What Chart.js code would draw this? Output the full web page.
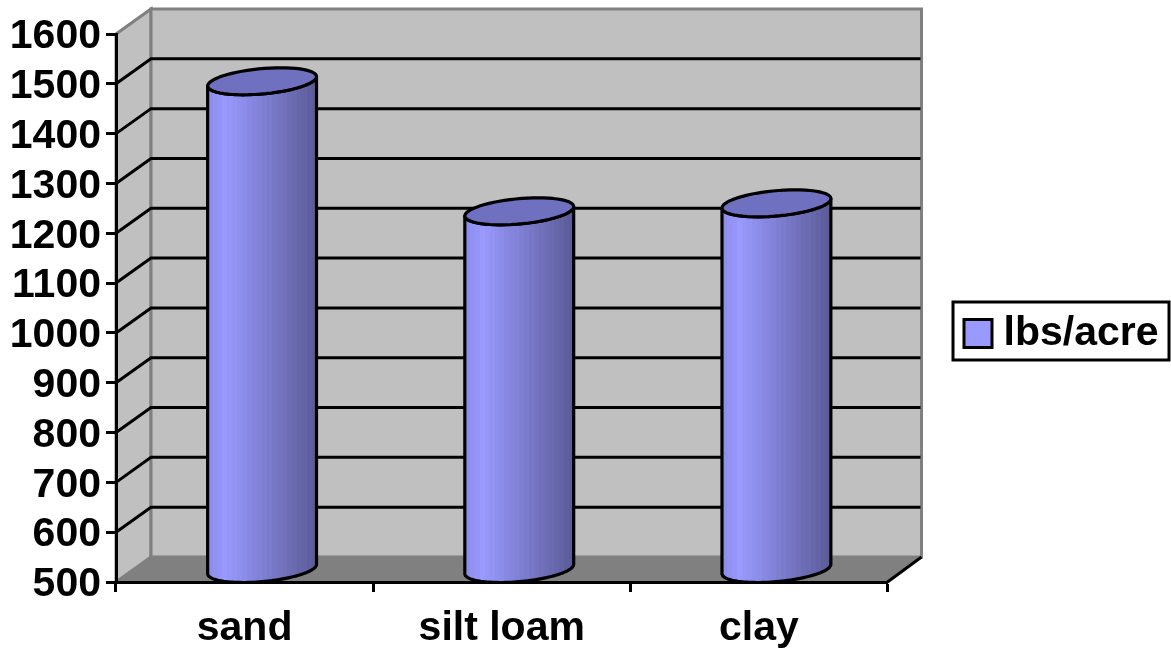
<!DOCTYPE html>
<html>
<head>
<meta charset="utf-8">
<title>lbs/acre</title>
<style>
    html, body { margin: 0; padding: 0; background: #fff; }
    canvas { display: block; }
</style>
<script src="https://cdn.jsdelivr.net/npm/chart.js@4"></script>
</head>
<body>
<canvas id="yieldChart" width="1171" height="651"></canvas>
<script>
const soils = ['sand', 'silt loam', 'clay'];
const lbsPerAcre = [1480, 1219, 1235];
const seriesName = 'lbs/acre';
const axisMin = 500;
const axisMax = 1600;
const axisStep = 100;

// depth of the fake 3D box, in pixels
const DEPTH_X = 35;
const DEPTH_Y = -25;
const CAP_SHEAR = 0.54;

const FONT = { family: '"Liberation Sans", Arial, sans-serif', size: 41, weight: 'bold' };

function ellipsePoint(cx, cy, r, t) {
    return {
        x: cx + r * Math.cos(t) + DEPTH_X * CAP_SHEAR * Math.sin(t),
        y: cy + DEPTH_Y * CAP_SHEAR * Math.sin(t)
    };
}

// angle of the leftmost point of the sheared ellipse
function sideAngle(r) {
    return Math.PI + Math.atan2(DEPTH_X * CAP_SHEAR, r);
}

function traceArc(ctx, cx, cy, r, from, to) {
    const steps = 60;
    for (let i = 0; i <= steps; i++) {
        const p = ellipsePoint(cx, cy, r, from + (to - from) * i / steps);
        ctx.lineTo(p.x, p.y);
    }
}

function bodyGradient(ctx, left, right) {
    const grad = ctx.createLinearGradient(left, 0, right, 0);
    const bands = 22;
    for (let i = 0; i < bands; i++) {
        const f = i / (bands - 1);
        // brightest a little in from the left edge, dark at the right
        const k = f < 0.15 ? 0.93 + f * 0.47 : 1 - (f - 0.15) * 0.47;
        const col = `rgb(${Math.round(153 * k)},${Math.round(153 * k)},${Math.round(255 * k)})`;
        grad.addColorStop(i / bands, col);
        grad.addColorStop((i + 1) / bands, col);
    }
    return grad;
}

class CylinderController extends Chart.BarController {
    draw() {
        const ctx = this.chart.ctx;
        this.getMeta().data.forEach(bar => {
            const { x, y, base, width } = bar.getProps(['x', 'y', 'base', 'width']);
            const r = width / 2;
            const cx = x + DEPTH_X / 2;
            const topY = y + DEPTH_Y / 2;
            const botY = base + DEPTH_Y / 2;
            const a = sideAngle(r);
            const reach = ellipsePoint(cx, 0, r, a);
            const halfW = cx - reach.x;

            ctx.save();
            ctx.lineWidth = 3.2;
            ctx.strokeStyle = '#000';
            ctx.lineJoin = 'round';

            // side wall and lower rim
            ctx.beginPath();
            const start = ellipsePoint(cx, topY, r, a);
            ctx.moveTo(start.x, start.y);
            traceArc(ctx, cx, botY, r, a, a + Math.PI);
            traceArc(ctx, cx, topY, r, a + Math.PI, a);
            ctx.closePath();
            ctx.fillStyle = bodyGradient(ctx, cx - halfW, cx + halfW);
            ctx.fill();
            ctx.stroke();

            // top cap
            ctx.beginPath();
            traceArc(ctx, cx, topY, r, 0, Math.PI * 2);
            ctx.closePath();
            ctx.fillStyle = '#7070c0';
            ctx.fill();
            ctx.stroke();
            ctx.restore();
        });
    }
}
CylinderController.id = 'cylinder';
CylinderController.defaults = Chart.BarController.defaults;
CylinderController.overrides = Chart.BarController.overrides;
Chart.register(CylinderController);

// back wall, side wall, floor and the grid running across them
const boxWalls = {
    id: 'boxWalls',
    beforeDraw(chart) {
        const { ctx, chartArea: a, scales: { y: yScale } } = chart;
        const poly = (pts, fill, stroke, lw) => {
            ctx.beginPath();
            pts.forEach((p, i) => i ? ctx.lineTo(p[0], p[1]) : ctx.moveTo(p[0], p[1]));
            if (fill) {
                ctx.closePath();
                ctx.fillStyle = fill;
                ctx.fill();
            }
            if (stroke) {
                ctx.strokeStyle = stroke;
                ctx.lineWidth = lw;
                ctx.stroke();
            }
        };
        const backL = a.left + DEPTH_X, backR = a.right + DEPTH_X - 1;
        const backT = a.top + DEPTH_Y, backB = a.bottom + DEPTH_Y;

        ctx.save();
        poly([[a.left, a.top], [backL, backT], [backL, backB], [a.left, a.bottom]], '#c0c0c0', '#808080', 3);
        poly([[a.left, a.bottom], [a.right, a.bottom], [backR, backB], [backL, backB]], '#808080');
        poly([[backL, backT], [backR, backT], [backR, backB], [backL, backB]], '#c0c0c0', '#808080', 3);

        yScale.ticks.forEach(t => {
            if (t.value === axisMin || t.value === axisMax) return;
            const py = yScale.getPixelForValue(t.value);
            poly([[a.left, py], [backL, py + DEPTH_Y], [backR - 1, py + DEPTH_Y]], null, '#000', 3);
        });
        poly([[a.right, a.bottom], [backR, backB]], null, '#000', 3);
        ctx.restore();
    }
};

// the key sits in its own outlined box to the right of the plot
const legendBox = { left: 953, top: 302, right: 1169, bottom: 360 };
const legendFrame = {
    id: 'legendFrame',
    afterLayout(chart) {
        const lg = chart.legend;
        lg.left = legendBox.left;
        lg.right = legendBox.right;
        lg.top = legendBox.top - 9;
        lg.bottom = legendBox.bottom - 9;
    },
    afterDraw(chart) {
        const ctx = chart.ctx;
        ctx.save();
        ctx.strokeStyle = '#000';
        ctx.lineWidth = 3;
        ctx.strokeRect(legendBox.left, legendBox.top, legendBox.right - legendBox.left, legendBox.bottom - legendBox.top);
        ctx.restore();
    }
};

new Chart(document.getElementById('yieldChart').getContext('2d'), {
    type: 'cylinder',
    data: {
        labels: soils,
        datasets: [{
            label: seriesName,
            data: lbsPerAcre,
            base: axisMin,
            clip: false,
            backgroundColor: '#9999ff',
            borderColor: '#000',
            borderWidth: 3,
            categoryPercentage: 1,
            barPercentage: 0.397
        }]
    },
    plugins: [boxWalls, legendFrame],
    options: {
        responsive: false,
        animation: false,
        layout: { padding: { top: 34, right: 68, bottom: 0, left: 0 } },
        plugins: {
            tooltip: { enabled: false },
            legend: {
                position: 'right',
                align: 'start',
                labels: {
                    color: '#000',
                    font: FONT,
                    usePointStyle: true,
                    pointStyle: 'rect',
                    boxWidth: 10,
                    boxHeight: 28,
                    padding: 20
                }
            }
        },
        scales: {
            x: {
                offset: true,
                afterFit(scale) { scale.height = 69; },
                grid: { offset: true, drawOnChartArea: false, drawTicks: true, tickLength: 10, tickWidth: 3, tickColor: '#000' },
                border: { color: '#000', width: 3 },
                ticks: { color: '#000', font: FONT, padding: 12, maxRotation: 0 }
            },
            y: {
                min: axisMin,
                max: axisMax,
                afterFit(scale) { scale.width = 116; },
                grid: { drawOnChartArea: false, drawTicks: true, tickLength: 10, tickWidth: 3, tickColor: '#000' },
                border: { color: '#000', width: 3 },
                ticks: {
                    color: '#000',
                    font: FONT,
                    padding: 5,
                    stepSize: axisStep,
                    autoSkip: false,
                    labelOffset: 3,
                    callback: v => String(v)
                }
            }
        }
    }
});
</script>
</body>
</html>
